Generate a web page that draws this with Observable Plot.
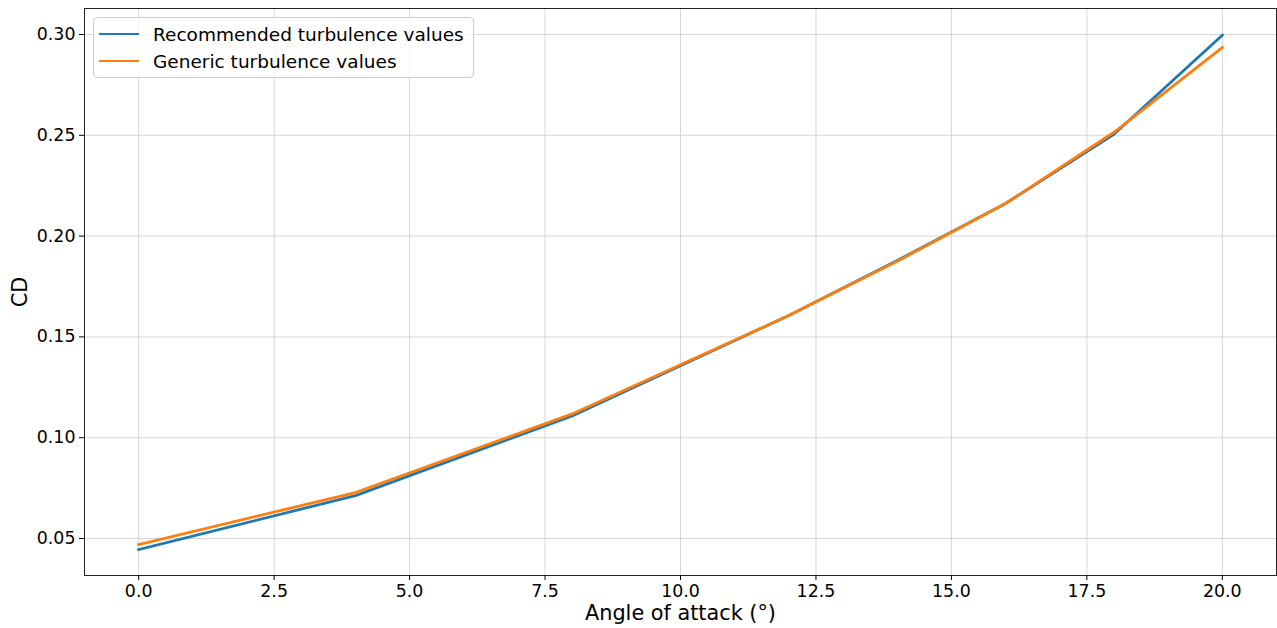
<!DOCTYPE html>
<html>
<head>
<meta charset="utf-8">
<script src="https://cdn.jsdelivr.net/npm/d3@7"></script>
<script src="https://cdn.jsdelivr.net/npm/@observablehq/plot@0.6"></script>
<style>
  html, body { margin: 0; padding: 0; background: #fff; }
  #wrap { position: relative; width: 1277px; height: 628px; font-family: "DejaVu Sans", sans-serif; }
  #legend { position: absolute; left: 93px; top: 17px; width: 381px; height: 61px; border: 1px solid #cccccc; border-radius: 4px; background: rgba(255,255,255,0.8); box-sizing: border-box; }
  .item { position: absolute; left: 5px; height: 20px; display: flex; align-items: center; font-size: 18.5px; color: #000; white-space: nowrap; }
  .swatch { width: 40px; height: 0; border-top: 2.8px solid; margin-right: 14px; }
</style>
</head>
<body>
<div id="wrap"></div>
<script>
const angles = [0, 4, 8, 12, 14, 16, 18, 20];
const recommended = [0.0445, 0.0713, 0.1108, 0.1606, 0.1879, 0.2162, 0.2505, 0.2997];
const generic = [0.0470, 0.0728, 0.1118, 0.1606, 0.1875, 0.2162, 0.2515, 0.2936];
const seriesNames = ["Recommended turbulence values", "Generic turbulence values"];
const seriesColors = ["#1f77b4", "#ff7f0e"];
const xTicks = [0, 2.5, 5, 7.5, 10, 12.5, 15, 17.5, 20];
const yTicks = [0.05, 0.10, 0.15, 0.20, 0.25, 0.30];

const data = [];
[recommended, generic].forEach((vals, s) => {
  angles.forEach((a, i) => data.push({angle: a, cd: vals[i], series: seriesNames[s]}));
});

const chart = Plot.plot({
  width: 1277,
  height: 628,
  marginLeft: 84,
  marginRight: 1,
  marginTop: 8,
  marginBottom: 53,
  style: {fontFamily: "DejaVu Sans, sans-serif", fontSize: "17.4px", color: "#000", background: "#fff", overflow: "visible"},
  x: {domain: [-1, 21]},
  y: {domain: [0.03165, 0.3129]},
  color: {domain: seriesNames, range: seriesColors},
  marks: [
    Plot.gridX(xTicks, {stroke: "#d6d6d6", strokeOpacity: 1, strokeWidth: 1}),
    Plot.gridY(yTicks, {stroke: "#d6d6d6", strokeOpacity: 1, strokeWidth: 1}),
    Plot.axisX({ticks: xTicks, tickFormat: d3.format(".1f"), tickSize: 5, tickPadding: 4, fontSize: 17.4,
      label: "Angle of attack (°)", labelAnchor: "center", labelArrow: "none", labelOffset: 44}),
    Plot.axisY({ticks: yTicks, tickFormat: d3.format(".2f"), tickSize: 5, tickPadding: 4, fontSize: 17.4,
      label: "CD", labelAnchor: "center", labelArrow: "none", labelOffset: 72}),
    Plot.line(data, {x: "angle", y: "cd", z: "series", stroke: "series", strokeWidth: 2.8, strokeLinejoin: "round", strokeLinecap: "square"}),
    Plot.frame({stroke: "#222", strokeWidth: 1})
  ]
});

chart.querySelectorAll("[aria-label='x-axis label'] text, [aria-label='y-axis label'] text").forEach(t => t.setAttribute("font-size", "20.8"));
document.getElementById("wrap").appendChild(chart);

const legend = document.createElement("div");
legend.id = "legend";
seriesNames.forEach((name, i) => {
  const item = document.createElement("div");
  item.className = "item";
  item.style.top = (6 + i * 27) + "px";
  const sw = document.createElement("span");
  sw.className = "swatch";
  sw.style.borderTopColor = seriesColors[i];
  const tx = document.createElement("span");
  tx.textContent = name;
  item.appendChild(sw);
  item.appendChild(tx);
  legend.appendChild(item);
});
document.getElementById("wrap").appendChild(legend);
</script>
</body>
</html>
